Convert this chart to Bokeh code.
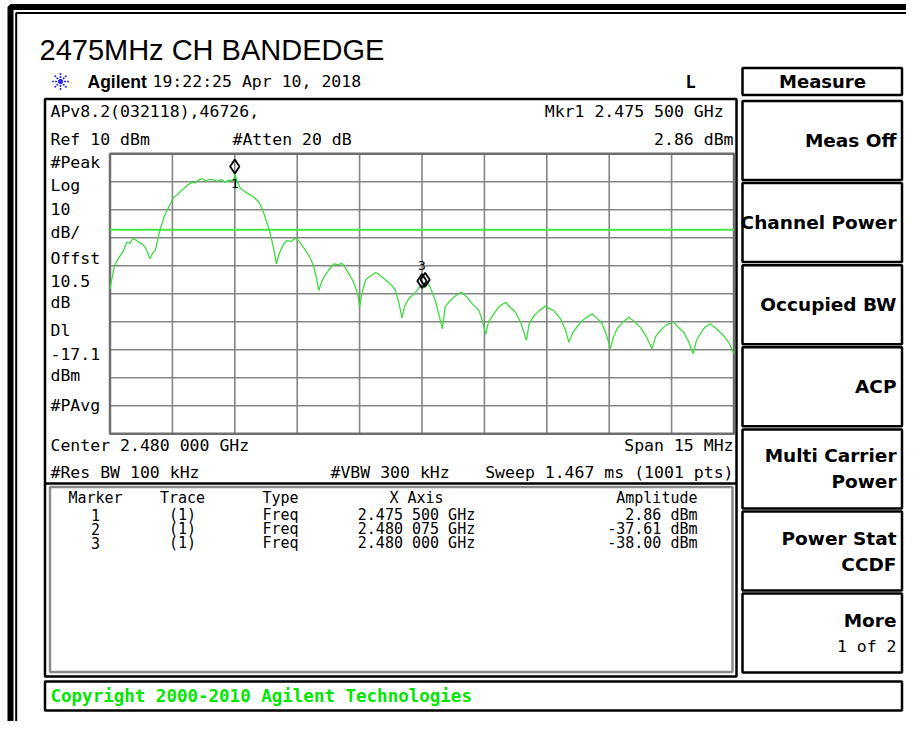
import numpy as np
from bokeh.plotting import figure
from bokeh.models import Range1d, Label
from bokeh.core.properties import value
from bokeh.embed import file_html
from bokeh.resources import INLINE

# ---------------- data ----------------
title_text = "2475MHz CH BANDEDGE"
center_mhz = 2480.0
span_mhz = 15.0
ref_level_dbm = 10.0
db_per_div = 10.0
n_div = 10
display_line_dbm = -17.1

trace_freq_mhz = [
    2472.50, 2472.56, 2472.61, 2472.68, 2472.75, 2472.82, 2472.90, 2472.98, 2473.05, 2473.11,
    2473.18, 2473.27, 2473.35, 2473.42, 2473.46, 2473.52, 2473.59, 2473.65, 2473.71, 2473.80,
    2473.91, 2474.03, 2474.12, 2474.20, 2474.27, 2474.36, 2474.48, 2474.55, 2474.62, 2474.72,
    2474.80, 2474.88, 2475.00, 2475.08, 2475.16, 2475.28, 2475.36, 2475.44, 2475.47, 2475.50,
    2475.55, 2475.64, 2475.70, 2475.76, 2475.86, 2475.96, 2476.08, 2476.14, 2476.20, 2476.26,
    2476.32, 2476.41, 2476.46, 2476.50, 2476.55, 2476.60, 2476.68, 2476.76, 2476.86, 2476.96,
    2477.04, 2477.12, 2477.20, 2477.28, 2477.34, 2477.40, 2477.46, 2477.52, 2477.58, 2477.64,
    2477.76, 2477.88, 2477.98, 2478.08, 2478.16, 2478.24, 2478.32, 2478.40, 2478.46, 2478.50,
    2478.56, 2478.64, 2478.72, 2478.80, 2478.88, 2478.96, 2479.08, 2479.20, 2479.30, 2479.36,
    2479.44, 2479.52, 2479.58, 2479.68, 2479.80, 2479.90, 2479.96, 2480.00, 2480.075, 2480.12,
    2480.20, 2480.32, 2480.40, 2480.49, 2480.56, 2480.68, 2480.80, 2480.95, 2481.08, 2481.21,
    2481.37, 2481.46, 2481.53, 2481.60, 2481.73, 2481.86, 2482.01, 2482.12, 2482.25, 2482.38,
    2482.51, 2482.58, 2482.69, 2482.82, 2482.97, 2483.05, 2483.17, 2483.33, 2483.45, 2483.53,
    2483.62, 2483.81, 2483.95, 2484.09, 2484.20, 2484.33, 2484.44, 2484.53, 2484.60, 2484.69,
    2484.82, 2484.97, 2485.10, 2485.25, 2485.40, 2485.53, 2485.62, 2485.73, 2485.88, 2486.05,
    2486.18, 2486.29, 2486.42, 2486.52, 2486.60, 2486.69, 2486.80, 2486.93, 2487.08, 2487.25,
    2487.38, 2487.50,
]
trace_amp_dbm = [
    -38.2, -33.5, -29.9, -28.0, -26.3, -24.8, -21.6, -21.9, -20.4, -20.6,
    -21.5, -22.1, -23.5, -26.0, -27.5, -25.6, -24.5, -20.5, -16.8, -12.5,
    -9.1, -5.5, -4.6, -3.4, -2.5, -1.2, -0.1, -0.4, 0.6, 1.1,
    0.3, 0.9, 0.7, 0.2, 0.8, -0.1, 0.6, 0.5, 0.2, 2.86,
    0.5, -2.5, -3.0, -3.7, -4.6, -5.5, -7.3, -9.0, -11.4, -14.0,
    -16.8, -22.1, -26.0, -29.3, -26.5, -24.5, -22.0, -21.0, -21.3, -20.0,
    -21.2, -22.8, -24.5, -26.3, -28.0, -30.5, -34.0, -38.8, -36.0, -34.1,
    -31.5, -29.3, -29.6, -29.1, -30.8, -32.9, -34.8, -37.6, -40.5, -44.8,
    -39.5, -35.2, -34.0, -33.3, -32.4, -33.0, -34.5, -36.0, -37.5, -38.8,
    -43.0, -48.6, -44.5, -41.8, -40.2, -38.5, -37.0, -38.0, -37.61, -35.9,
    -37.8, -42.4, -47.0, -52.5, -44.5, -42.4, -40.8, -39.4, -41.2, -43.6,
    -46.0, -50.0, -54.5, -50.0, -47.1, -44.5, -43.0, -44.8, -46.6, -50.5,
    -56.6, -50.5, -47.9, -46.0, -44.4, -45.2, -46.0, -48.9, -53.0, -57.3,
    -54.0, -50.1, -48.5, -47.1, -48.6, -50.7, -55.0, -59.6, -55.5, -52.5,
    -50.3, -48.4, -49.8, -52.0, -55.5, -59.6, -55.2, -53.1, -51.0, -50.1,
    -52.2, -53.7, -57.5, -61.4, -56.5, -54.3, -52.0, -50.7, -52.5, -54.9,
    -57.5, -61.4,
]

marker_ids = ["1", "2", "3"]
marker_freq_mhz = [2475.5, 2480.075, 2480.0]
marker_amp_dbm = [2.86, -37.61, -38.00]
marker_trace = ["(1)", "(1)", "(1)"]
marker_type = ["Freq", "Freq", "Freq"]
marker_x_text = ["2.475 500 GHz", "2.480 075 GHz", "2.480 000 GHz"]
marker_amp_text = ["2.86 dBm", "-37.61 dBm", "-38.00 dBm"]
table_headers = ["Marker", "Trace", "Type", "X Axis", "Amplitude"]

left_labels = ["#Peak", "Log", "10", "dB/", "Offst", "10.5", "dB", "Dl", "-17.1", "dBm", "#PAvg"]
left_label_y = [162, 185, 208, 232, 258, 280, 302, 330, 353, 375, 405]

softkey_title = "Measure"
softkeys = [["Meas Off"], ["Channel Power"], ["Occupied BW"], ["ACP"],
            ["Multi Carrier", "Power"], ["Power Stat", "CCDF"], ["More", "1 of 2"]]

header_line1 = "APv8.2(032118),46726,"
header_mkr = "Mkr1  2.475 500 GHz"
header_ref = "Ref 10 dBm"
header_atten = "#Atten 20 dB"
header_mkr_amp = "2.86 dBm"
footer_center = "Center 2.480 000 GHz"
footer_span = "Span 15 MHz"
footer_rbw = "#Res BW 100 kHz"
footer_vbw = "#VBW 300 kHz"
footer_sweep = "Sweep 1.467 ms (1001 pts)"
timestamp = "19:22:25 Apr 10, 2018"
copyright_text = "Copyright 2000-2010 Agilent Technologies"

# ---------------- layout (pixels, y downwards) ----------------
W, H = 906, 721
GX0, GX1, GY0, GY1 = 109.5, 733.5, 153.3, 433.3
MONO = "DejaVu Sans Mono"
SANS = "Liberation Sans"
BOLDSANS = "DejaVu Sans"
TRACE_GREEN = "#3fdc3f"
DL_GREEN = "#45e845"
GRID_GRAY = "#858585"

p = figure(width=W, height=H, x_range=Range1d(0, W), y_range=Range1d(H, 0),
           output_backend="svg", toolbar_location=None, min_border=0,
           x_axis_location=None, y_axis_location=None)
p.grid.visible = False
p.outline_line_color = None
p.background_fill_color = "white"
p.border_fill_color = "white"

f_lo = center_mhz - span_mhz / 2
f_hi = center_mhz + span_mhz / 2
mhz_per_px = span_mhz / (GX1 - GX0)
db_lo = ref_level_dbm - n_div * db_per_div
db_per_px = n_div * db_per_div / (GY1 - GY0)
p.extra_x_ranges = {"f": Range1d(f_lo - GX0 * mhz_per_px, f_lo + (W - GX0) * mhz_per_px)}
p.extra_y_ranges = {"db": Range1d(ref_level_dbm - (H - GY0) * db_per_px,
                                  ref_level_dbm + GY0 * db_per_px)}
R = dict(x_range_name="f", y_range_name="db")


def box(l, t, r, b, color="black", w=2.5):
    p.quad(left=[l], right=[r], top=[t], bottom=[b], fill_color=None, line_color=color, line_width=w)


def hline(x0, x1, y, color="black", w=2.5):
    p.segment(x0=[x0], y0=[y], x1=[x1], y1=[y], line_color=color, line_width=w)


def txt(x, y, s, size=16.5, font=MONO, bold=False, align="left", color="black"):
    p.add_layout(Label(x=x, y=y, text=s, text_font=font, text_font_size=f"{size}px",
                       text_font_style="bold" if bold else "normal", text_align=align,
                       text_baseline="middle", text_color=color))


# outer double frame (right and bottom sides run past the picture)
box(10, 6.5, 940, 740, w=6)
box(15.7, 12.6, 935, 732.3, w=2)

# title + header
txt(39, 49.5, title_text, size=29, font=SANS)
p.scatter([60], [81], marker="asterisk", size=17, line_color="#2a2aff", line_width=1.6, line_dash="2 1")
p.scatter([60], [81], marker="circle", size=4, line_color="#2a2aff", fill_color="#2a2aff")
txt(87, 81, "Agilent", size=17.5, font=SANS, bold=True)
txt(152, 81, timestamp, size=16.5)
txt(690, 81, "L", size=17, bold=True, align="center")

# instrument display frame
box(44.5, 98.5, 736, 676)
hline(44.5, 736, 483)
box(49.5, 486.5, 732, 671.5, color="#8a8a8a", w=2.5)

# header texts
txt(50, 111, header_line1)
txt(733, 111, header_mkr, align="right")
txt(50, 139, header_ref)
txt(232, 139, header_atten)
txt(733, 139, header_mkr_amp, align="right")
for s, y in zip(left_labels, left_label_y):
    txt(50, y, s)

# footer texts
txt(50, 445, footer_center)
txt(733, 445, footer_span, align="right")
txt(50, 472, footer_rbw)
txt(330, 472, footer_vbw)
txt(733, 472, footer_sweep, align="right")

# marker table
TS = 15
col_x = [95, 182, 280, 416, 697]
col_align = ["center", "center", "center", "center", "right"]
for s, x, a in zip(table_headers, col_x, col_align):
    txt(x, 497, s, size=TS, align=a)
row_y = [514, 528, 542]
for i in range(len(marker_ids)):
    cells = [marker_ids[i], marker_trace[i], marker_type[i], marker_x_text[i], marker_amp_text[i]]
    for s, x, a in zip(cells, col_x, col_align):
        txt(x, row_y[i], s, size=TS, align=a)

# graticule
vf = np.linspace(f_lo, f_hi, n_div + 1)
hd = np.linspace(db_lo, ref_level_dbm, n_div + 1)
p.segment(x0=vf, y0=db_lo, x1=vf, y1=ref_level_dbm, line_color=GRID_GRAY, line_width=1.6, **R)
p.segment(x0=f_lo, y0=hd, x1=f_hi, y1=hd, line_color=GRID_GRAY, line_width=1.6, **R)
p.quad(left=[f_lo], right=[f_hi], bottom=[db_lo], top=[ref_level_dbm], fill_color=None,
       line_color="#6e6e6e", line_width=2.5, **R)

# display line and trace
p.segment(x0=[f_lo], y0=[display_line_dbm], x1=[f_hi], y1=[display_line_dbm],
          line_color=DL_GREEN, line_width=2, **R)
p.line(trace_freq_mhz, trace_amp_dbm, line_color=TRACE_GREEN, line_width=1.3, **R)

# markers (diamond sits above the marked point)
diamond_lift_db = 7.3 * db_per_px
p.scatter(marker_freq_mhz, [a + diamond_lift_db for a in marker_amp_dbm], marker="diamond",
          size=14, fill_color=None, line_color="black", line_width=1.8, **R)
p.text(x=[marker_freq_mhz[0]], y=[marker_amp_dbm[0]], text=[marker_ids[0]], y_offset=10,
       text_font=value(MONO), text_font_size="13px", text_align="center", text_baseline="middle", **R)
p.text(x=[marker_freq_mhz[2]], y=[marker_amp_dbm[2]], text=[marker_ids[2]], y_offset=-22.5,
       text_font=value(MONO), text_font_size="13px", text_align="center", text_baseline="middle", **R)

# softkeys
box(742, 67.5, 901.5, 94.5)
txt(822, 81, softkey_title, size=18, font=BOLDSANS, bold=True, align="center")
sk_top, sk_pitch, sk_h = 100.5, 82.1, 79
for i, lines in enumerate(softkeys):
    t = sk_top + i * sk_pitch
    box(742, t, 901.5, t + sk_h)
    cy = t + sk_h / 2
    if len(lines) == 1:
        txt(896, cy, lines[0], size=18.5, font=BOLDSANS, bold=True, align="right")
    else:
        txt(896, cy - 13, lines[0], size=18.5, font=BOLDSANS, bold=True, align="right")
        if lines[1] == "1 of 2":
            txt(896, cy + 13, lines[1], size=16.5, align="right")
        else:
            txt(896, cy + 13, lines[1], size=18.5, font=BOLDSANS, bold=True, align="right")

# copyright bar
box(44.5, 681, 901.5, 710)
txt(50, 695.5, copyright_text, size=17.5, bold=True, color="#00e600")

open("out.html", "w").write(file_html(p, INLINE))
